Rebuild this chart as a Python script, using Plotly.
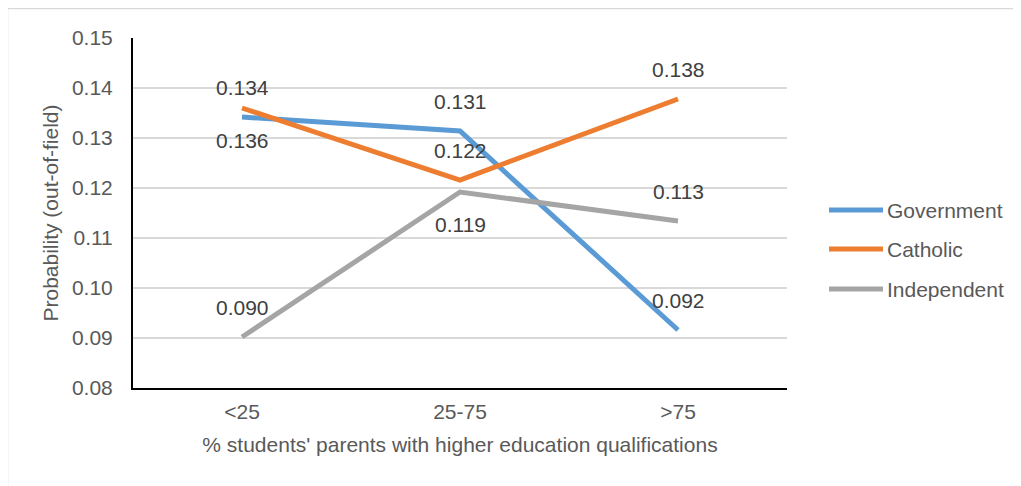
import plotly.graph_objects as go

categories = ["<25", "25-75", ">75"]
government = [0.1342, 0.1314, 0.0916]
catholic = [0.1360, 0.1216, 0.1378]
independent = [0.0902, 0.1192, 0.1134]
gov_labels = ["0.134", "0.131", "0.092"]
cath_labels = ["0.136", "0.122", "0.138"]
ind_labels = ["0.090", "0.119", "0.113"]
y_ticks = [0.08, 0.09, 0.10, 0.11, 0.12, 0.13, 0.14, 0.15]

# page body has an 8px margin, so figure coords = screen coords - 8
OFF = 8
W, H = 1021 - OFF, 486 - OFF
L, R, T, B = 133 - OFF, 787 - OFF, 38 - OFF, 388 - OFF
FONT = "Liberation Sans, Arial, sans-serif"

series = [
    ("Government", government, gov_labels, "#5B9BD5", ["up", "up", "up"]),
    ("Catholic", catholic, cath_labels, "#ED7D31", ["down", "up", "up"]),
    ("Independent", independent, ind_labels, "#A5A5A5", ["up", "down", "up"]),
]


def px(x):
    return (x - OFF - L) / (R - L)


def py(y):
    return (B - (y - OFF)) / (B - T)


fig = go.Figure()
annotations = []
shapes = [dict(
    type="rect", xref="paper", yref="paper",
    x0=px(7.5), x1=px(1040), y0=py(500), y1=py(8.5),
    line=dict(color="#d9d9d9", width=1.5), fillcolor="rgba(0,0,0,0)",
    layer="below",
)]
legend_y = [210, 249, 289]
for i, (name, vals, labs, color, pos) in enumerate(series):
    fig.add_trace(go.Scatter(
        x=categories, y=vals, mode="lines", name=name,
        line=dict(color=color, width=5), showlegend=False,
    ))
    for c, v, t, p in zip(categories, vals, labs, pos):
        annotations.append(dict(
            x=c, y=v, xref="x", yref="y", text=t, showarrow=False,
            yshift=30 if p == "up" else -32,
            font=dict(family=FONT, size=21, color="#404040"),
        ))
    # manual legend entry
    shapes.append(dict(
        type="line", xref="paper", yref="paper",
        x0=px(829), x1=px(883), y0=py(legend_y[i]), y1=py(legend_y[i]),
        line=dict(color=color, width=5),
    ))
    annotations.append(dict(
        x=px(885), y=py(legend_y[i]), xref="paper", yref="paper",
        xanchor="left", yanchor="middle", text=name, showarrow=False,
        font=dict(family=FONT, size=21, color="#595959"),
    ))

fig.update_layout(
    width=W, height=H,
    margin=dict(l=L, r=W - R, t=T, b=H - B, autoexpand=False),
    paper_bgcolor="white", plot_bgcolor="white",
    font=dict(family=FONT, size=21, color="#595959"),
    showlegend=False,
    xaxis=dict(
        type="category", range=[-0.5, 2.5],
        showline=True, linecolor="black", linewidth=2,
        showgrid=False, zeroline=False,
        ticks="outside", ticklen=4, tickcolor="rgba(0,0,0,0)",
        tickfont=dict(size=21, color="#595959"),
        title=dict(text="% students' parents with higher education qualifications",
                   font=dict(size=21, color="#595959"), standoff=15),
    ),
    yaxis=dict(
        range=[0.08, 0.15], tickvals=y_ticks,
        ticktext=[f"{v:.2f}" for v in y_ticks],
        showline=True, linecolor="black", linewidth=2,
        showgrid=True, gridcolor="#d9d9d9", gridwidth=2, zeroline=False,
        ticks="outside", ticklen=14, tickcolor="rgba(0,0,0,0)",
        tickfont=dict(size=21, color="#595959"),
        title=dict(text="Probability (out-of-field)",
                   font=dict(size=21, color="#595959"), standoff=8),
    ),
    annotations=annotations,
    shapes=shapes,
)

fig.write_html("out.html")
